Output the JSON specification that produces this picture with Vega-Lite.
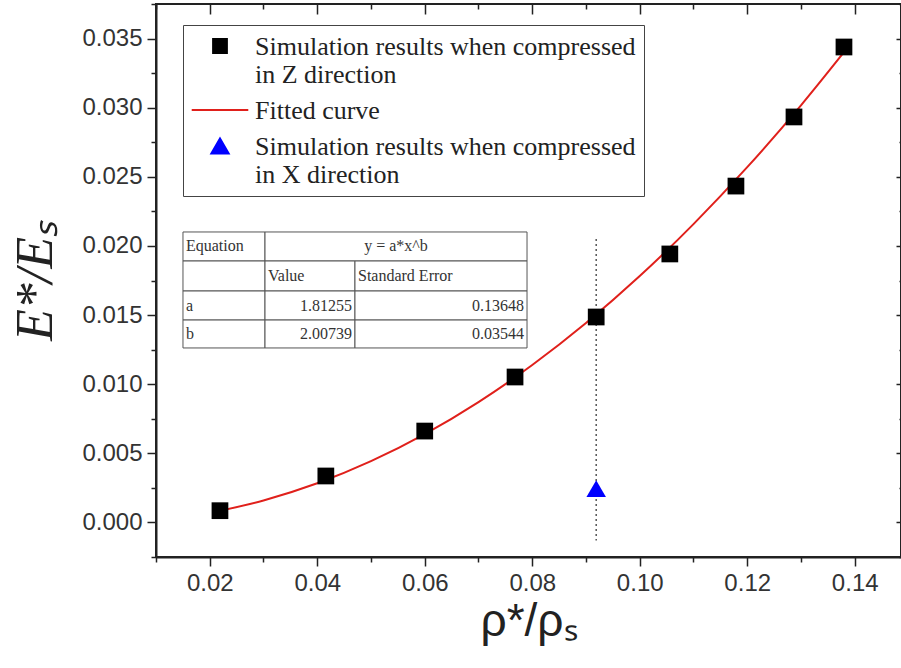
{
  "$schema": "https://vega.github.io/schema/vega-lite/v6.json",
  "width": 745,
  "height": 553,
  "autosize": {"type": "none"},
  "padding": {"left": 156, "top": 4, "right": 0, "bottom": 111},
  "background": "white",
  "config": {
    "view": {"stroke": "#222", "strokeWidth": 2},
    "axis": {"grid": false, "labelFlush": false, "labelOverlap": false}
  },
  "datasets": {
    "sq": [
      {"x": 0.0219, "y": 0.00085, "series": "Z"},
      {"x": 0.0416, "y": 0.00336, "series": "Z"},
      {"x": 0.0600, "y": 0.00661, "series": "Z"},
      {"x": 0.0768, "y": 0.01052, "series": "Z"},
      {"x": 0.0919, "y": 0.01486, "series": "Z"},
      {"x": 0.1056, "y": 0.01942, "series": "Z"},
      {"x": 0.1179, "y": 0.02433, "series": "Z"},
      {"x": 0.1287, "y": 0.02933, "series": "Z"},
      {"x": 0.1380, "y": 0.03439, "series": "Z"}
    ],
    "tri": [
      {"x": 0.0919, "y": 0.00245, "series": "X"}
    ],
    "fit": [
      {"x": 0.022, "y": 0.000853, "series": "Fit"},
      {"x": 0.030, "y": 0.001590, "series": "Fit"},
      {"x": 0.040, "y": 0.002832, "series": "Fit"},
      {"x": 0.050, "y": 0.004432, "series": "Fit"},
      {"x": 0.060, "y": 0.006391, "series": "Fit"},
      {"x": 0.070, "y": 0.008709, "series": "Fit"},
      {"x": 0.080, "y": 0.011386, "series": "Fit"},
      {"x": 0.090, "y": 0.014423, "series": "Fit"},
      {"x": 0.100, "y": 0.017820, "series": "Fit"},
      {"x": 0.110, "y": 0.021577, "series": "Fit"},
      {"x": 0.120, "y": 0.025695, "series": "Fit"},
      {"x": 0.130, "y": 0.030173, "series": "Fit"},
      {"x": 0.138, "y": 0.034017, "series": "Fit"}
    ],
    "vline": [{"x": 0.0919, "y": 0.0205, "y2": -0.0013}],
    "tcells": [
      {"x": 0.01502, "x2": 0.03028, "y": 0.02101, "y2": 0.01891},
      {"x": 0.03028, "x2": 0.07903, "y": 0.02101, "y2": 0.01891},
      {"x": 0.01502, "x2": 0.03028, "y": 0.01891, "y2": 0.01674},
      {"x": 0.03028, "x2": 0.04702, "y": 0.01891, "y2": 0.01674},
      {"x": 0.04702, "x2": 0.07903, "y": 0.01891, "y2": 0.01674},
      {"x": 0.01502, "x2": 0.03028, "y": 0.01674, "y2": 0.01464},
      {"x": 0.03028, "x2": 0.04702, "y": 0.01674, "y2": 0.01464},
      {"x": 0.04702, "x2": 0.07903, "y": 0.01674, "y2": 0.01464},
      {"x": 0.01502, "x2": 0.03028, "y": 0.01464, "y2": 0.01262},
      {"x": 0.03028, "x2": 0.04702, "y": 0.01464, "y2": 0.01262},
      {"x": 0.04702, "x2": 0.07903, "y": 0.01464, "y2": 0.01262}
    ],
    "tleft": [
      {"x": 0.01558, "y": 0.01996, "t": "Equation"},
      {"x": 0.03084, "y": 0.01782, "t": "Value"},
      {"x": 0.04758, "y": 0.01782, "t": "Standard Error"},
      {"x": 0.01558, "y": 0.01569, "t": "a"},
      {"x": 0.01558, "y": 0.01363, "t": "b"}
    ],
    "tright": [
      {"x": 0.04647, "y": 0.01569, "t": "1.81255"},
      {"x": 0.07847, "y": 0.01569, "t": "0.13648"},
      {"x": 0.04647, "y": 0.01363, "t": "2.00739"},
      {"x": 0.07847, "y": 0.01363, "t": "0.03544"}
    ],
    "tcenter": [{"x": 0.05465, "y": 0.01996, "t": "y = a*x^b"}]
  },
  "layer": [
    {
      "data": {"name": "vline"},
      "mark": {"type": "rule", "color": "#555", "strokeWidth": 1.5, "strokeDash": [2, 3]},
      "encoding": {
        "x": {"field": "x", "type": "quantitative",
          "scale": {"domain": [0.01, 0.14861], "nice": false, "zero": false},
          "axis": {"orient": "top", "title": null, "labels": false, "domain": false,
            "values": [0.01,0.02,0.03,0.04,0.05,0.06,0.07,0.08,0.09,0.10,0.11,0.12,0.13,0.14],
            "tickColor": "#222", "tickWidth": 1.5,
            "tickSize": {"condition": {"test": "round(datum.value*100)%2==0", "value": -10}, "value": -5}}},
        "y": {"field": "y", "type": "quantitative",
          "scale": {"domain": [-0.0025, 0.0375], "nice": false, "zero": false},
          "axis": {"orient": "right", "title": null, "labels": false, "domain": false,
            "values": [-0.0025,0,0.0025,0.005,0.0075,0.01,0.0125,0.015,0.0175,0.02,0.0225,0.025,0.0275,0.03,0.0325,0.035,0.0375],
            "tickColor": "#222", "tickWidth": 1.5,
            "tickSize": {"condition": {"test": "abs(datum.value*200 - round(datum.value*200)) < 0.01", "value": -5}, "value": -2}}},
        "y2": {"field": "y2"}
      }
    },
    {
      "data": {"name": "fit"},
      "mark": {"type": "line", "strokeWidth": 2, "interpolate": "monotone"},
      "encoding": {
        "x": {"field": "x", "type": "quantitative",
          "axis": {"orient": "bottom", "title": "ρ*/ρₛ",
            "values": [0.01,0.02,0.03,0.04,0.05,0.06,0.07,0.08,0.09,0.10,0.11,0.12,0.13,0.14],
            "format": ".2f",
            "labelExpr": "round(datum.value*100)%2==0 ? datum.label : ''",
            "tickSize": {"condition": {"test": "round(datum.value*100)%2==0", "value": 9}, "value": 5},
            "labelFont": "Liberation Sans", "labelFontSize": 24, "labelColor": "#333", "labelPadding": 5,
            "titleFont": "Liberation Sans", "titleFontSize": 46, "titleFontWeight": "normal", "titleColor": "#222", "titlePadding": 4,
            "domainColor": "#222", "domainWidth": 2, "tickColor": "#222", "tickWidth": 1.5}},
        "y": {"field": "y", "type": "quantitative",
          "axis": {"orient": "left", "title": "E*/Eₛ",
            "values": [-0.0025,0,0.0025,0.005,0.0075,0.01,0.0125,0.015,0.0175,0.02,0.0225,0.025,0.0275,0.03,0.0325,0.035,0.0375],
            "format": ".3f",
            "labelExpr": "abs(datum.value*200 - round(datum.value*200)) < 0.01 ? datum.label : ''",
            "tickSize": {"condition": {"test": "abs(datum.value*200 - round(datum.value*200)) < 0.01", "value": 9}, "value": 5},
            "labelFont": "Liberation Sans", "labelFontSize": 24, "labelColor": "#333", "labelPadding": 5,
            "titleFont": "Liberation Serif", "titleFontStyle": "italic", "titleFontSize": 52, "titleFontWeight": "normal", "titleColor": "#222", "titlePadding": 19,
            "domainColor": "#222", "domainWidth": 2, "tickColor": "#222", "tickWidth": 1.5}},
        "color": {"field": "series", "type": "nominal",
          "scale": {"domain": ["Z", "Fit", "X"], "range": ["#000000", "#e0201b", "#0000ff"]},
          "legend": {"orient": "none", "legendX": 27, "legendY": 21, "title": null,
            "labelFont": "Liberation Serif", "labelFontSize": 26, "labelColor": "#222", "labelLimit": 600,
            "labelExpr": "datum.value == 'Z' ? ['Simulation results when compressed', 'in Z direction'] : datum.value == 'X' ? ['Simulation results when compressed', 'in X direction'] : 'Fitted curve'",
            "labelBaseline": "top", "labelOffset": 22, "symbolSize": 200, "symbolOffset": 16, "rowPadding": 9,
            "strokeColor": "#444", "fillColor": "white", "padding": 8,
            "encode": {
              "symbols": {"update": {
                "stroke": {"signal": "datum.value === 'Fit' ? '#e0201b' : 'transparent'"},
                "strokeWidth": {"value": 2},
                "size": {"signal": "datum.value === 'X' ? 300 : datum.value === 'Z' ? 190 : 200"}}},
              "labels": {"update": {"lineHeight": {"value": 28}, "dy": {"value": -12}}}
            }}}
      }
    },
    {
      "data": {"name": "sq"},
      "mark": {"type": "point", "filled": true, "opacity": 1, "size": 280},
      "encoding": {
        "x": {"field": "x", "type": "quantitative", "axis": null},
        "y": {"field": "y", "type": "quantitative", "axis": null},
        "color": {"field": "series", "type": "nominal"},
        "shape": {"field": "series", "type": "nominal",
          "scale": {"domain": ["Z", "Fit", "X"], "range": ["square", "M-4,0H4", "triangle-up"]},
          "legend": {"orient": "none", "legendX": 27, "legendY": 21, "title": null}}
      }
    },
    {
      "data": {"name": "tri"},
      "mark": {"type": "point", "filled": true, "opacity": 1, "size": 380},
      "encoding": {
        "x": {"field": "x", "type": "quantitative", "axis": null},
        "y": {"field": "y", "type": "quantitative", "axis": null},
        "color": {"field": "series", "type": "nominal"},
        "shape": {"field": "series", "type": "nominal"}
      }
    },
    {
      "data": {"name": "tcells"},
      "mark": {"type": "rect", "fill": "white", "stroke": "#555", "strokeWidth": 1},
      "encoding": {
        "x": {"field": "x", "type": "quantitative", "axis": null},
        "x2": {"field": "x2"},
        "y": {"field": "y", "type": "quantitative", "axis": null},
        "y2": {"field": "y2"}
      }
    },
    {
      "data": {"name": "tleft"},
      "mark": {"type": "text", "align": "left", "baseline": "middle", "font": "Liberation Serif", "fontSize": 16, "color": "#333"},
      "encoding": {
        "x": {"field": "x", "type": "quantitative", "axis": null},
        "y": {"field": "y", "type": "quantitative", "axis": null},
        "text": {"field": "t"}
      }
    },
    {
      "data": {"name": "tright"},
      "mark": {"type": "text", "align": "right", "baseline": "middle", "font": "Liberation Serif", "fontSize": 16, "color": "#333"},
      "encoding": {
        "x": {"field": "x", "type": "quantitative", "axis": null},
        "y": {"field": "y", "type": "quantitative", "axis": null},
        "text": {"field": "t"}
      }
    },
    {
      "data": {"name": "tcenter"},
      "mark": {"type": "text", "align": "center", "baseline": "middle", "font": "Liberation Serif", "fontSize": 16, "color": "#333"},
      "encoding": {
        "x": {"field": "x", "type": "quantitative", "axis": null},
        "y": {"field": "y", "type": "quantitative", "axis": null},
        "text": {"field": "t"}
      }
    }
  ]
}
